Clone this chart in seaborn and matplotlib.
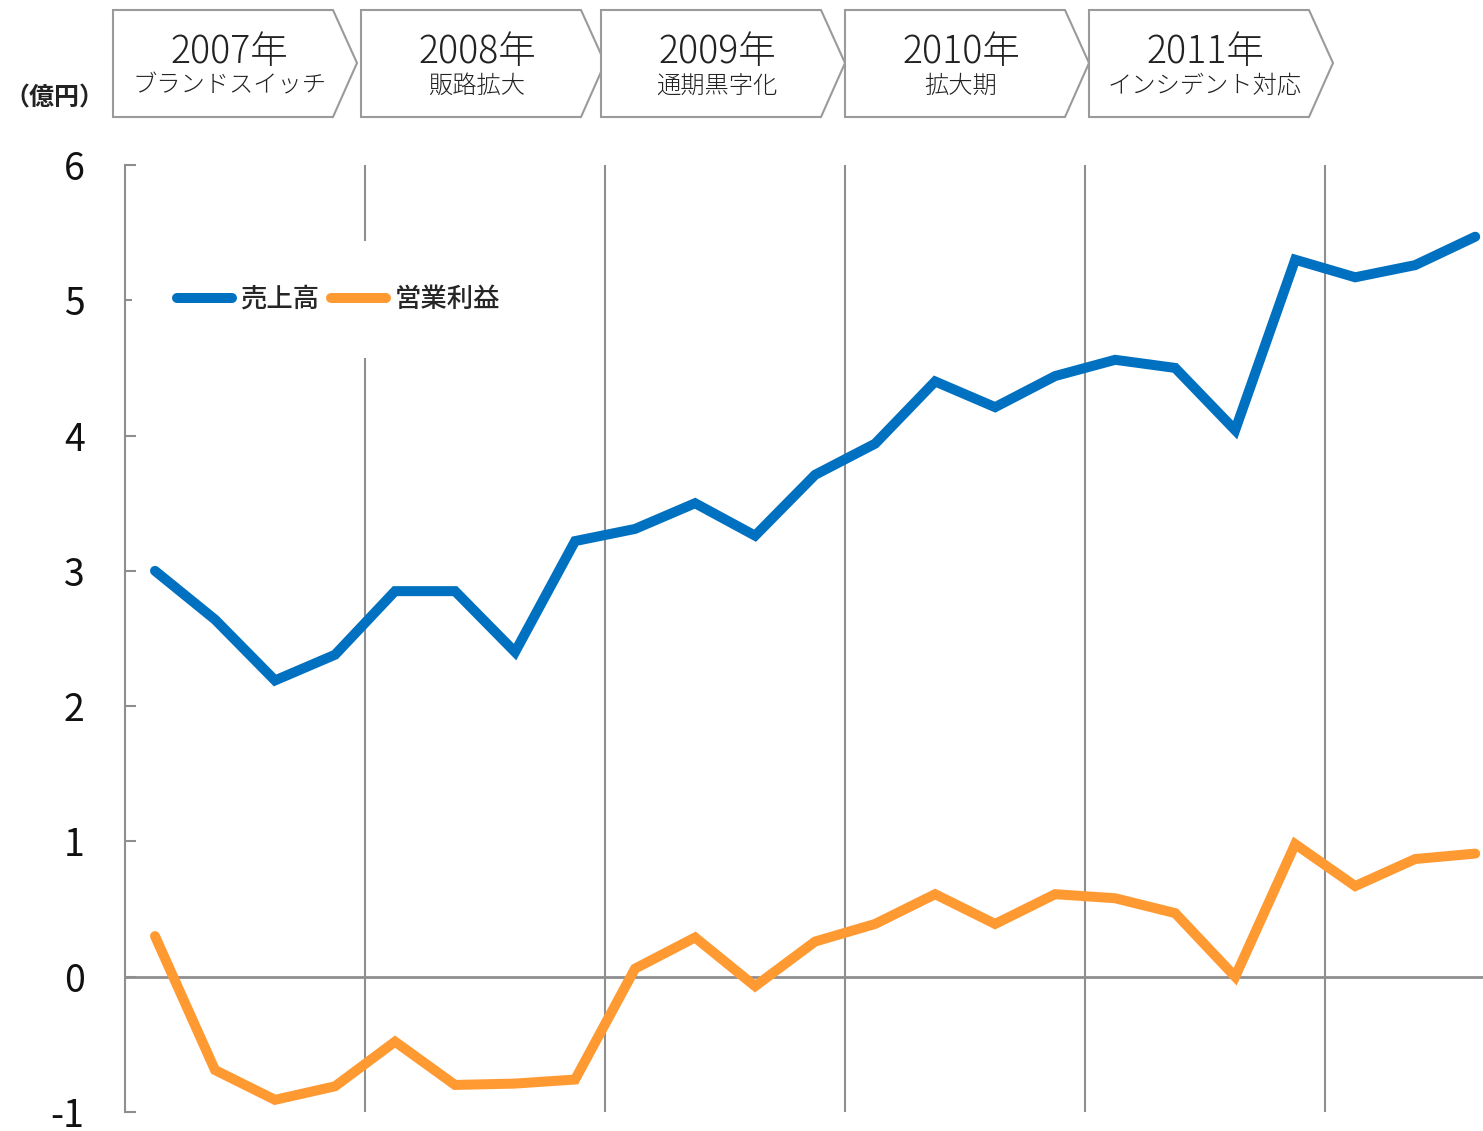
import numpy as np
import pandas as pd
import matplotlib.pyplot as plt
import seaborn as sns
from matplotlib.patches import Polygon

# data (億円, quarterly)
years = ["2007年", "2008年", "2009年", "2010年", "2011年"]
phases = ["ブランドスイッチ", "販路拡大", "通期黒字化", "拡大期", "インシデント対応"]
series_names = ["売上高", "営業利益"]
sales = [3.00, 2.64, 2.19, 2.38, 2.85, 2.85, 2.40, 3.22, 3.31, 3.50, 3.26, 3.71,
         3.94, 4.40, 4.21, 4.44, 4.56, 4.50, 4.04, 5.30, 5.17, 5.26, 5.47]
profit = [0.30, -0.69, -0.91, -0.81, -0.48, -0.80, -0.79, -0.76, 0.06, 0.29, -0.07, 0.26,
          0.39, 0.61, 0.39, 0.61, 0.58, 0.47, 0.00, 0.98, 0.67, 0.87, 0.91]
yticks = [-1, 0, 1, 2, 3, 4, 5, 6]

BLUE = "#0070C0"
ORANGE = "#FF9A33"
GRAY = "#8e8e8e"
W, H = 1483, 1131

sns.set_theme(style="white")
plt.rcParams["font.family"] = ["Noto Sans CJK JP", "DejaVu Sans"]

df = pd.DataFrame({"q": np.arange(len(sales)), series_names[0]: sales, series_names[1]: profit})
long = df.melt(id_vars="q", var_name="series", value_name="value")

fig = plt.figure(figsize=(W / 100, H / 100), dpi=100)
ax = fig.add_axes([125 / W, 19 / H, 1358 / W, 947 / H])

# quarter separators and zero line
for xv in [3.5, 7.5, 11.5, 15.5, 19.5]:
    ax.axvline(xv, color=GRAY, lw=1.5, zorder=1)
ax.axhline(0, color=GRAY, lw=2, zorder=1)

sns.lineplot(data=long, x="q", y="value", hue="series", palette=[BLUE, ORANGE],
             linewidth=7.2, ax=ax, zorder=3)
for ln in ax.lines:
    ln.set_solid_capstyle("round")
    ln.set_solid_joinstyle("miter")

ax.set_xlim(-0.5, 22.13)
ax.set_ylim(-1, 6)
ax.set_xticks([])
ax.set_yticks(yticks)
ax.set_yticklabels([str(t) for t in yticks])
ax.set_xlabel("")
ax.set_ylabel("")
for s in ["top", "right", "bottom"]:
    ax.spines[s].set_visible(False)
ax.spines["left"].set_color(GRAY)
ax.spines["left"].set_linewidth(1.5)
ax.tick_params(axis="y", direction="in", length=8, width=1.5, color=GRAY,
               pad=29, labelsize=27, labelcolor="#111111", left=True)

handles, labels = ax.get_legend_handles_labels()
leg = ax.legend(handles, labels, loc="center left", bbox_to_anchor=(0.005, 0.858),
                ncol=2, frameon=True, framealpha=1, facecolor="white", edgecolor="none",
                fontsize=19, handlelength=2.1, handletextpad=0.3, columnspacing=0.45,
                borderpad=1.7, borderaxespad=0)
leg.set_zorder(2)
for t in leg.get_texts():
    t.set_fontweight("medium")

def fx(x, y):
    return (x / W, 1 - y / H)

# header chevrons
lefts = [113, 361, 601, 845, 1089]
for left, yr, ph in zip(lefts, years, phases):
    flat = left + 220
    tip = left + 244
    pts = [fx(left, 10), fx(flat, 10), fx(tip, 63), fx(flat, 117), fx(left, 117)]
    fig.add_artist(Polygon(pts, closed=True, transform=fig.transFigure,
                           facecolor="white", edgecolor="#9a9a9a", lw=1.5))
    cx = left + 116
    fig.text(*fx(cx, 52), yr, ha="center", va="center", fontsize=27,
             fontweight="light", color="#222222")
    fig.text(*fx(cx, 86), ph, ha="center", va="center", fontsize=17.5,
             fontweight="light", color="#222222")

fig.text(*fx(54, 99), "（億円）", ha="center", va="center", fontsize=18,
         fontweight="bold", color="#222222")

fig.savefig("out.png", dpi=100)
